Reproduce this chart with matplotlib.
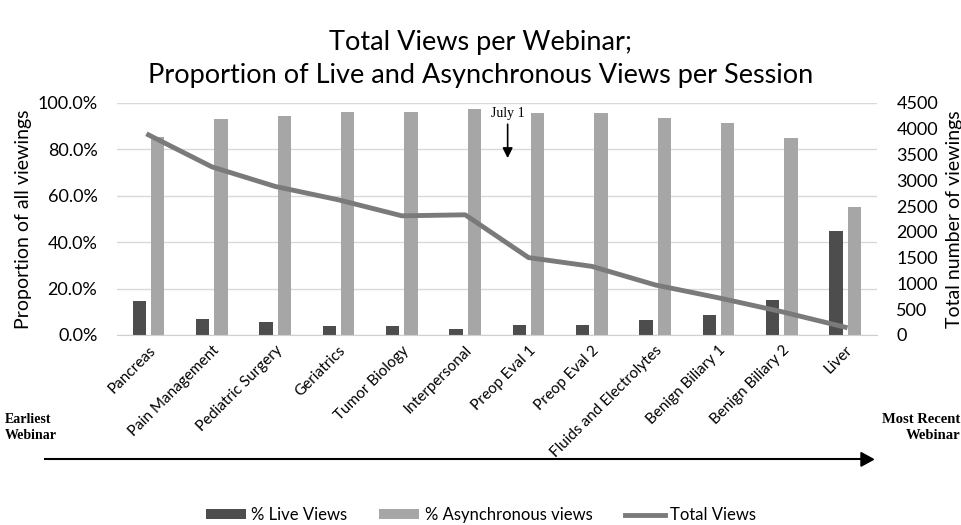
import numpy as np
import matplotlib.pyplot as plt
from matplotlib.ticker import PercentFormatter

webinars = ['Pancreas', 'Pain Management', 'Pediatric Surgery', 'Geriatrics',
            'Tumor Biology', 'Interpersonal', 'Preop Eval 1', 'Preop Eval 2',
            'Fluids and Electrolytes', 'Benign Biliary 1', 'Benign Biliary 2', 'Liver']
live_pct = [14.5, 7.0, 5.6, 3.8, 3.8, 2.5, 4.4, 4.4, 6.3, 8.6, 15.2, 45.0]
async_pct = [85.5, 93.0, 94.4, 96.2, 96.2, 97.5, 95.6, 95.6, 93.7, 91.4, 84.8, 55.0]
total_views = [3880, 3260, 2880, 2620, 2310, 2330, 1500, 1330, 970, 720, 450, 150]

plt.rcParams['font.family'] = ['Lato', 'DejaVu Sans']

fig = plt.figure(figsize=(9.62, 5.25), dpi=100)
ax = fig.add_axes([0.1215, 0.362, 0.79, 0.442])
x = np.arange(len(webinars))
w = 0.21
ax.bar(x - 0.145, live_pct, w, color='#4d4d4d', label='% Live Views', zorder=2)
ax.bar(x + 0.145, async_pct, w, color='#a6a6a6', label='% Asynchronous views', zorder=2)
ax.set_ylim(0, 100)
ax.set_xlim(-0.5, len(webinars) - 0.5)
ax.yaxis.set_major_formatter(PercentFormatter(decimals=1))
ax.set_yticks(np.arange(0, 101, 20))
ax.grid(axis='y', color='#d9d9d9', lw=1, zorder=0)
for s in ['top', 'left', 'right']:
    ax.spines[s].set_visible(False)
ax.spines['bottom'].set_color('#d0d0d0')
ax.tick_params(axis='y', length=0, labelsize=13, pad=14)
ax.tick_params(axis='x', length=0, pad=6)
ax.set_xticks(x)
ax.set_xticklabels(webinars, rotation=45, ha='right', rotation_mode='anchor', fontsize=11)
ax.set_ylabel('Proportion of all viewings', fontsize=14, labelpad=4)

ax2 = ax.twinx()
ax2.plot(x, total_views, color='#7a7a7a', lw=3.5, label='Total Views', zorder=3)
ax2.set_ylim(0, 4500)
ax2.set_yticks(np.arange(0, 4501, 500))
for s in ['top', 'left', 'right', 'bottom']:
    ax2.spines[s].set_visible(False)
ax2.tick_params(length=0, labelsize=13, pad=14)
ax2.set_ylabel('Total number of viewings', fontsize=14, labelpad=6)

fig.suptitle('Total Views per Webinar;\nProportion of Live and Asynchronous Views per Session',
             fontsize=19.5, y=0.942, va='top', linespacing=1.4)

# July 1 marker
ax.annotate('', xy=(5.67, 75), xytext=(5.67, 92),
            arrowprops=dict(arrowstyle='-|>,head_width=0.3,head_length=0.6',
                            color='black', lw=1.2))
ax.text(5.67, 95.5, 'July 1', family='Liberation Serif', fontsize=10,
        ha='center', va='center')

# timeline arrow
fig.text(0.005, 0.185, 'Earliest\nWebinar', family='Liberation Serif', fontweight='bold',
         fontsize=10, ha='left', va='center', linespacing=1.3)
fig.text(0.998, 0.185, 'Most Recent\nWebinar', family='Liberation Serif', fontweight='bold',
         fontsize=10.5, ha='right', va='center', linespacing=1.3)
fig.add_artist(plt.Line2D([0.047, 0.895], [0.125, 0.125], color='black', lw=1.5))
fig.patches.append(plt.Polygon([[0.895, 0.112], [0.908, 0.125], [0.895, 0.138]],
                               closed=True, color='black', transform=fig.transFigure))

h1, l1 = ax.get_legend_handles_labels()
h2, l2 = ax2.get_legend_handles_labels()
fig.legend(h1 + h2, l1 + l2, loc='lower center', ncol=3, frameon=False,
           fontsize=12, bbox_to_anchor=(0.5, -0.025), handlelength=2.4,
           handleheight=0.5, handletextpad=0.35, columnspacing=1.9)

fig.savefig('out.png', dpi=100)
